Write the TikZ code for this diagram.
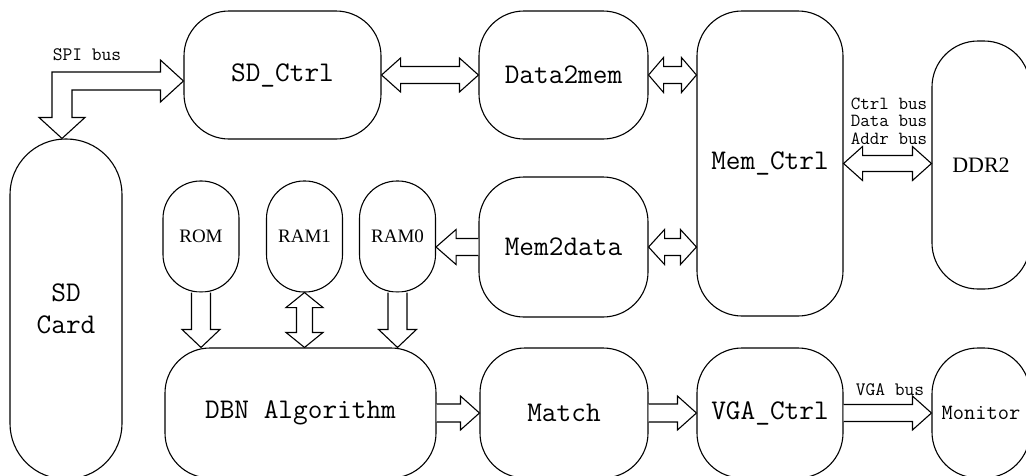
\documentclass[tikz,border=0pt]{standalone}
\usepackage{fontspec}
\newfontfamily\tnr{Liberation Serif}
\usetikzlibrary{calc}
% block arrows: #1,#2 points, #3 half shaft, #4 half head, #5 head length
\newcommand\blkR[5]{\draw[blk] ($(#1)+(0,-#3)$) -- ($(#2)+(-#5,-#3)$) -- ($(#2)+(-#5,-#4)$) -- (#2) -- ($(#2)+(-#5,#4)$) -- ($(#2)+(-#5,#3)$) -- ($(#1)+(0,#3)$);}
\newcommand\blkL[5]{\draw[blk] ($(#1)+(0,-#3)$) -- ($(#2)+(#5,-#3)$) -- ($(#2)+(#5,-#4)$) -- (#2) -- ($(#2)+(#5,#4)$) -- ($(#2)+(#5,#3)$) -- ($(#1)+(0,#3)$);}
\newcommand\blkH[5]{\draw[blk] (#1) -- ($(#1)+(#5,-#4)$) -- ($(#1)+(#5,-#3)$) -- ($(#2)+(-#5,-#3)$) -- ($(#2)+(-#5,-#4)$) -- (#2) -- ($(#2)+(-#5,#4)$) -- ($(#2)+(-#5,#3)$) -- ($(#1)+(#5,#3)$) -- ($(#1)+(#5,#4)$) -- cycle;}
\newcommand\blkD[5]{\draw[blk] ($(#1)+(-#3,0)$) -- ($(#2)+(-#3,-#5)$) -- ($(#2)+(-#4,-#5)$) -- (#2) -- ($(#2)+(#4,-#5)$) -- ($(#2)+(#3,-#5)$) -- ($(#1)+(#3,0)$);}
\newcommand\blkV[5]{\draw[blk] (#1) -- ($(#1)+(#4,#5)$) -- ($(#1)+(#3,#5)$) -- ($(#2)+(#3,-#5)$) -- ($(#2)+(#4,-#5)$) -- (#2) -- ($(#2)+(-#4,-#5)$) -- ($(#2)+(-#3,-#5)$) -- ($(#1)+(-#3,#5)$) -- ($(#1)+(-#4,#5)$) -- cycle;}
\begin{document}
\begin{tikzpicture}[x=1pt,y=-1pt,
  box/.style={draw, line width=1.1pt, rounded corners=45pt, inner sep=0pt, align=center,
    font=\ttfamily\fontsize{28.5}{32}\selectfont},
  mem/.style={box, rounded corners=37.5pt, minimum width=76pt, minimum height=111pt,
    font=\tnr\fontsize{19}{20}\selectfont},
  blk/.style={draw, line width=1.1pt, fill=white, line join=miter},
  lbl/.style={font=\ttfamily\fontsize{19}{17.5}\selectfont, inner sep=0pt}]
\useasboundingbox (0,0) rectangle (1026,475);
% boxes
\node[box, minimum width=197pt, minimum height=128pt] (sdctrl) at (282.5,75) {SD\_Ctrl};
\node[box, minimum width=169pt, minimum height=128pt] (data2mem) at (563.5,75) {Data2mem};
\node[box, minimum width=169pt, minimum height=140pt] (mem2data) at (563.5,247) {Mem2data};
\node[box, minimum width=146pt, minimum height=305pt] (memctrl) at (770,163.5) {Mem\_Ctrl};
\node[box, rounded corners=46pt, minimum width=98pt, minimum height=248pt,
  font=\tnr\fontsize{22}{24}\selectfont] (ddr2) at (981,165) {DDR2};
\node[box, rounded corners=55.5pt, minimum width=112pt, minimum height=340pt] (sdcard) at (66,309) {SD\\Card};
\node[mem] (rom) at (201,236.5) {ROM};
\node[mem] (ram1) at (304.5,236.5) {RAM1};
\node[mem] (ram0) at (397.5,236.5) {RAM0};
\node[box, minimum width=271pt, minimum height=130pt] (dbn) at (300.5,413) {DBN Algorithm};
\node[box, minimum width=168pt, minimum height=130pt] (match) at (564,413) {Match};
\node[box, minimum width=146pt, minimum height=130pt] (vgactrl) at (770,413) {VGA\_Ctrl};
\node[box, rounded corners=46pt, minimum width=98pt, minimum height=130pt,
  font=\ttfamily\fontsize{21.8}{24}\selectfont] (monitor) at (981,413) {Monitor};
% labels
\node[lbl] (spi) at (87,55) {SPI bus};
\node[lbl, align=left, font=\ttfamily\fontsize{18.5}{17.5}\selectfont] (bus) at (889,121) {Ctrl bus\\Data bus\\Addr bus};
\node[lbl] (vga) at (890,390) {VGA bus};
% helper coordinates
\coordinate (c1) at (data2mem.east -| memctrl.west);
\coordinate (c2) at (mem2data.east -| memctrl.west);
\coordinate (c3) at (mem2data.west -| ram0.east);
\coordinate (c5) at (memctrl.east -| ddr2.west);
\coordinate (c6) at (rom.south |- dbn.north);
\coordinate (c7) at (ram1.south |- dbn.north);
\coordinate (c8) at (ram0.south |- dbn.north);
\coordinate (t1) at ($(sdcard.north)+(-4,0)$);
\coordinate (t2) at ($(sdctrl.west)+(0,6)$);
\coordinate (t3) at (t1 |- t2);
% connectors
\draw[blk] ($(t1)+(-23,-21)$) -- (t1) -- ($(t1)+(23,-21)$) -- ($(t1)+(10,-21)$) -- ($(t3)+(10,9)$)
  -- ($(t2)+(-23,9)$) -- ($(t2)+(-23,21)$) -- (t2) -- ($(t2)+(-23,-21)$) -- ($(t2)+(-23,-9)$)
  -- ($(t3)+(-10,-9)$) -- ($(t1)+(-10,-21)$) -- cycle;
\blkH{sdctrl.east}{data2mem.west}{8.5}{17}{19}
\blkH{data2mem.east}{c1}{8.5}{17.5}{15}
\blkH{mem2data.east}{c2}{8.5}{17.5}{16}
\blkL{mem2data.west}{c3}{8.5}{17.5}{20}
\blkH{memctrl.east}{c5}{8}{17}{19}
\blkD{rom.south}{c6}{9.5}{19}{18}
\blkV{ram1.south}{c7}{8}{18.5}{15}
\blkD{ram0.south}{c8}{9.5}{19}{18}
\blkR{dbn.east}{match.west}{9}{17}{19}
\blkR{match.east}{vgactrl.west}{9}{17}{19}
\blkR{vgactrl.east}{monitor.west}{8.5}{17}{19}
\end{tikzpicture}
\end{document}
